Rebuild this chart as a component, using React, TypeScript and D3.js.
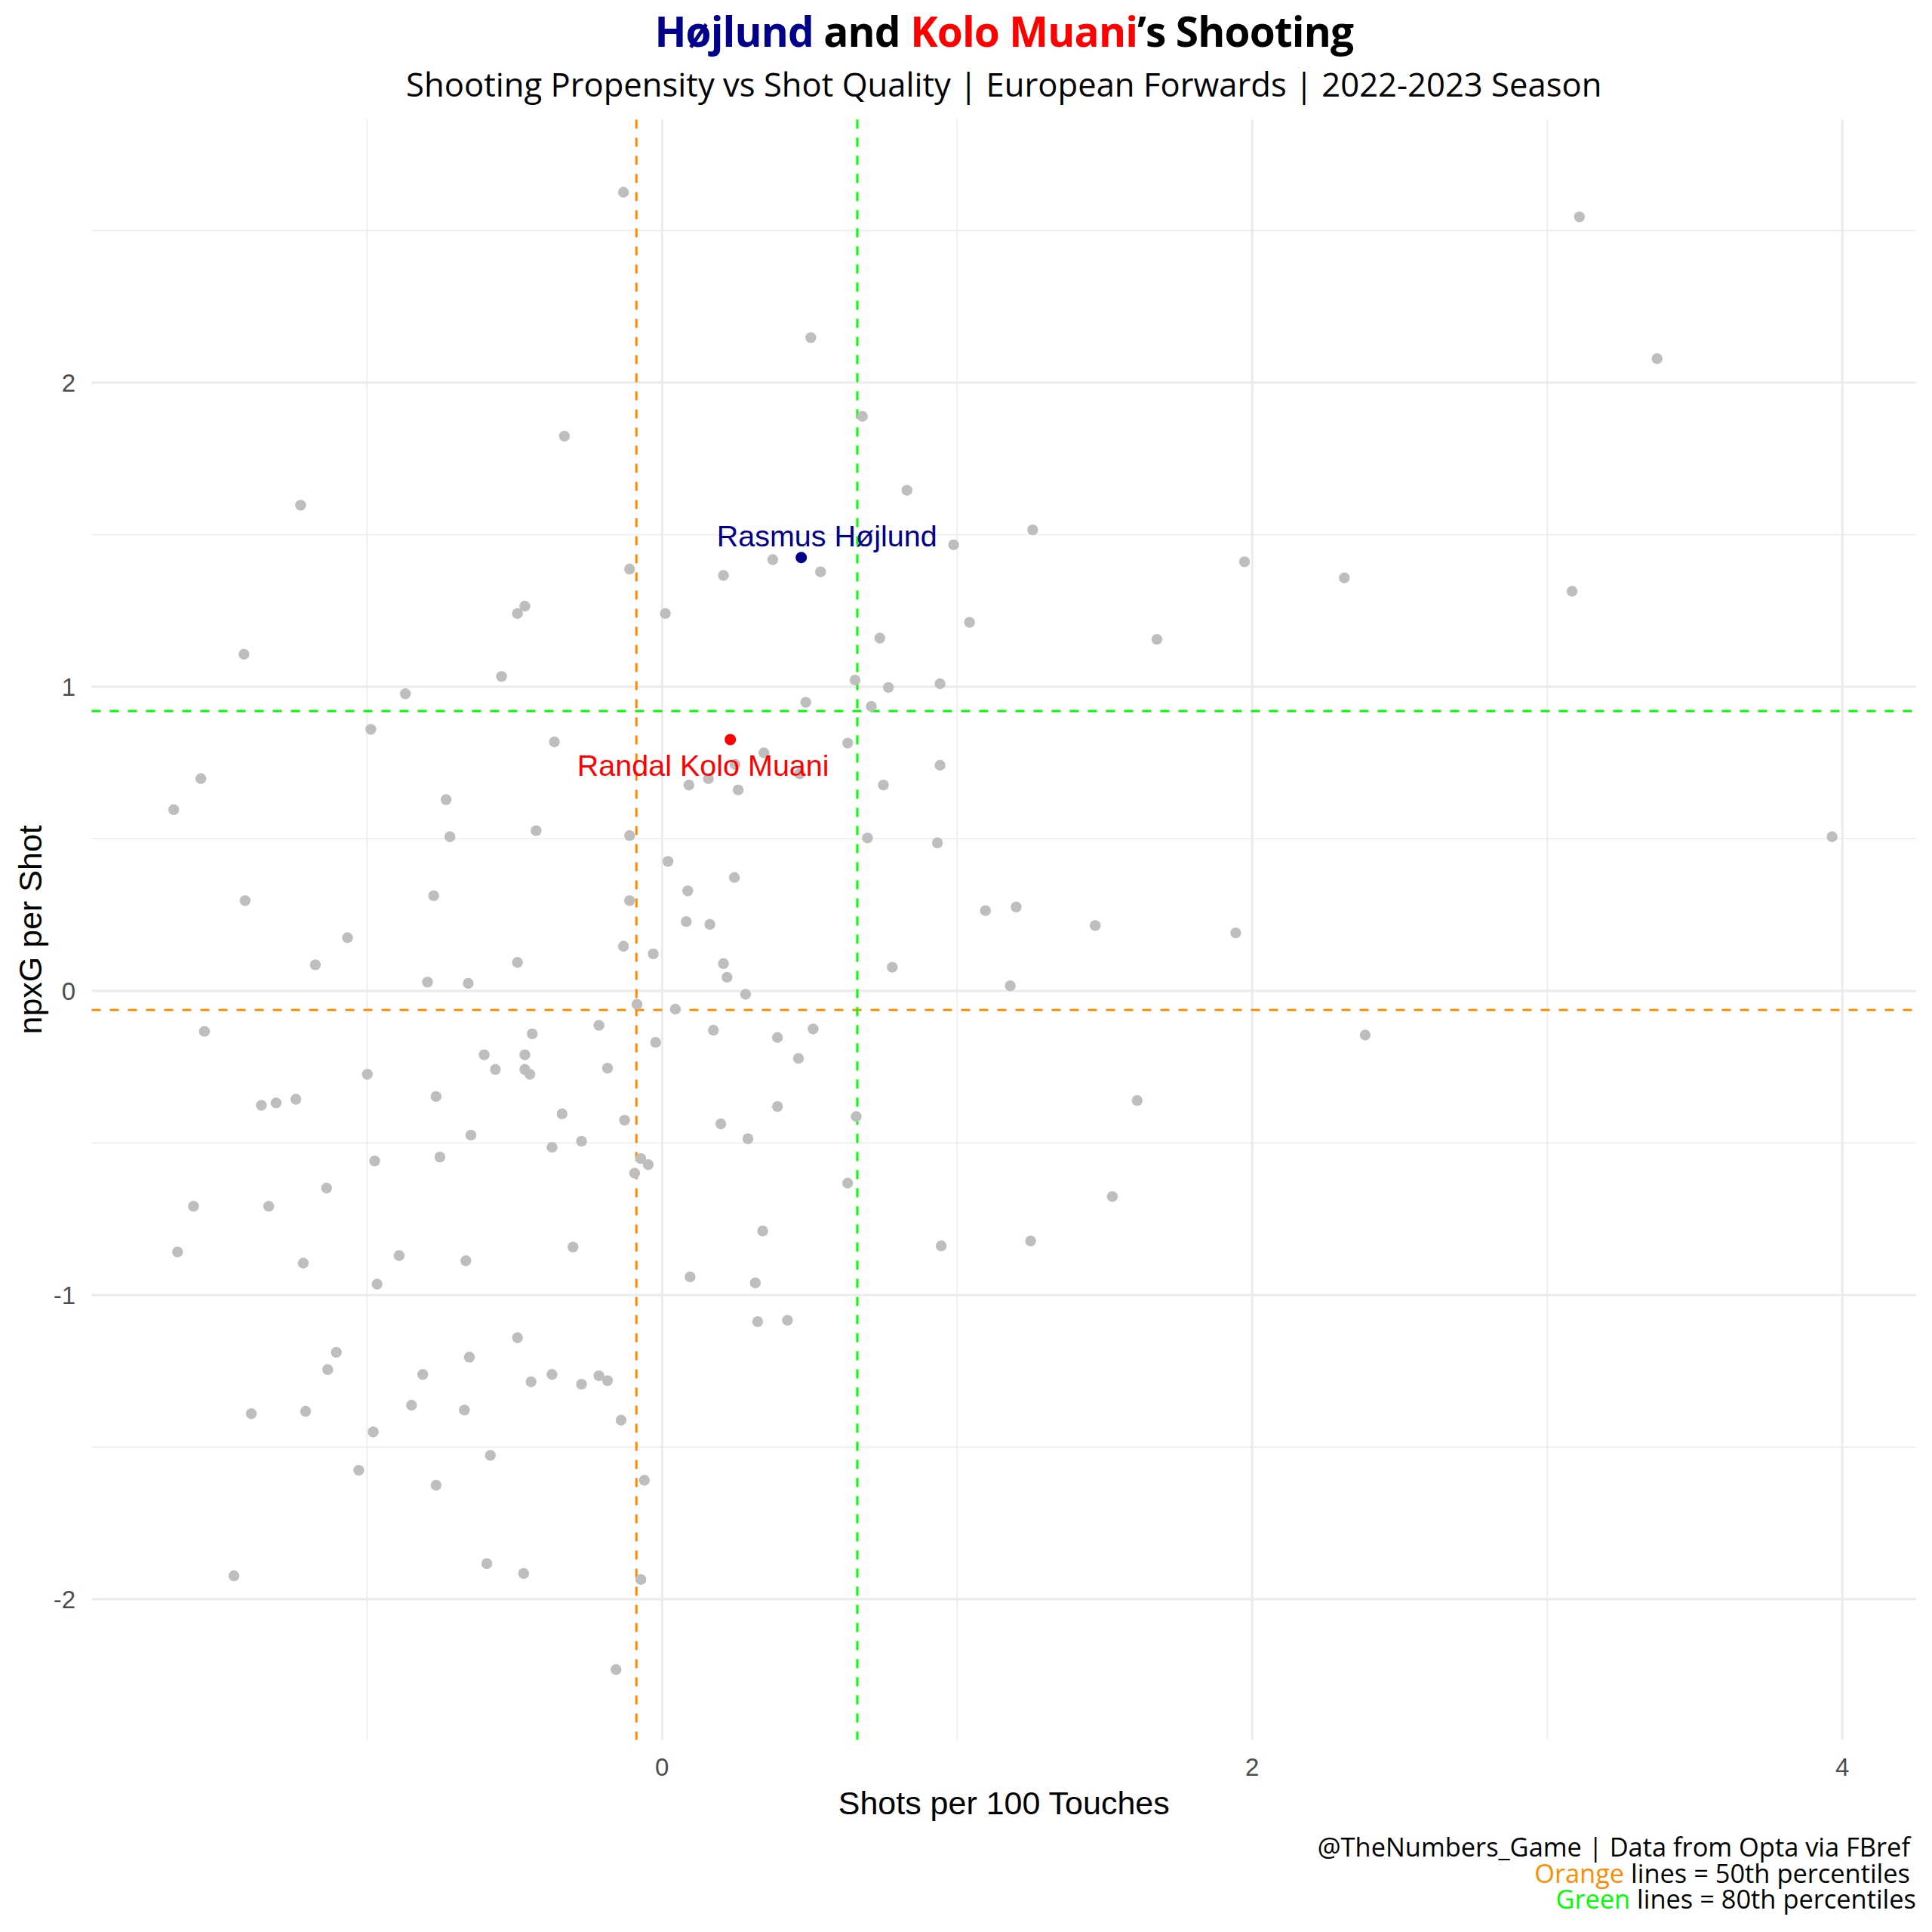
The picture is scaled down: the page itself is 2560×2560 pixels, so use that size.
import { useEffect } from "react";
import * as d3 from "d3";

// Shots per 100 touches (x) and npxG per shot (y), standardised, one entry per forward
const shotsPer100 = [
  -0.131, 3.109, 0.504, 3.372, 0.679, -0.331, 0.830, -1.225, 1.256, 0.988,
  0.375, 1.974, -0.110, 0.208, 0.537, 2.312, 3.084, -0.465, -0.490, 0.011,
  1.042, 0.738, 1.677, -1.417, -0.544, 0.654, 0.942, 0.767, -0.870, 0.487,
  0.709, -0.987, -0.365, 0.629, 0.345, 0.466, 0.942, -1.563, 0.157, 0.091,
  0.750, 0.258, -0.732, -1.655, -0.427, -0.719, -0.110, 0.696, 3.965, 0.933,
  0.020, 0.245, 0.087, -0.774, -1.413, -0.110, 1.200, 1.096, 0.082, 0.162,
  1.468, 1.944, -1.066, -0.131, -0.030, -0.490, 0.208, -1.175, 0.780, 0.220,
  -0.795, -0.657, 1.180, 0.283, -0.085, 0.045, -0.214, 0.174, -1.551, 0.512,
  -0.440, 2.383, 0.391, -0.022, -0.603, -0.465, 0.462, -0.565, -0.465, -0.185,
  -0.448, -0.999, -0.766, 1.610, -1.241, -1.308, -1.358, 0.391, -0.339, 0.658,
  -0.127, 0.199, -0.648, 0.291, -0.273, -0.373, -0.753, -0.072, -0.974, -0.047,
  -0.093, 0.629, -1.137, 1.526, -1.588, -1.333, 0.341, 1.249, 0.946, -0.302,
  -1.642, -0.891, -0.665, -1.216, 0.095, 0.316, -0.966, 0.324, 0.425, -0.490,
  -1.104, -0.653, -1.133, -0.811, -0.373, -0.214, -0.185, -0.444, -0.273, -0.849,
  -0.670, -1.208, -1.392, -0.139, -0.979, -0.582, -1.028, -0.060, -0.766, -0.594,
  -0.469, -1.451, -0.072, -0.156, 0.247,
];

const npxgPerShot = [
  2.626, 2.545, 2.148, 2.079, 1.889, 1.824, 1.646, 1.597, 1.516, 1.467,
  1.418, 1.411, 1.387, 1.366, 1.378, 1.358, 1.314, 1.265, 1.241, 1.241,
  1.212, 1.160, 1.156, 1.107, 1.034, 1.022, 1.010, 0.998, 0.977, 0.949,
  0.936, 0.860, 0.819, 0.815, 0.783, 0.714, 0.742, 0.698, 0.698, 0.677,
  0.677, 0.661, 0.629, 0.596, 0.527, 0.507, 0.511, 0.503, 0.507, 0.487,
  0.426, 0.373, 0.329, 0.313, 0.297, 0.297, 0.276, 0.264, 0.228, 0.219,
  0.215, 0.191, 0.175, 0.147, 0.122, 0.094, 0.090, 0.086, 0.078, 0.045,
  0.029, 0.025, 0.017, -0.011, -0.044, -0.060, -0.113, -0.129, -0.133, -0.125,
  -0.141, -0.145, -0.153, -0.169, -0.210, -0.210, -0.222, -0.258, -0.258, -0.254,
  -0.274, -0.274, -0.347, -0.360, -0.356, -0.368, -0.376, -0.380, -0.404, -0.413,
  -0.425, -0.437, -0.474, -0.486, -0.494, -0.514, -0.546, -0.551, -0.559, -0.571,
  -0.599, -0.632, -0.648, -0.676, -0.708, -0.708, -0.789, -0.822, -0.838, -0.842,
  -0.858, -0.870, -0.887, -0.895, -0.940, -0.960, -0.964, -1.087, -1.083, -1.140,
  -1.188, -1.204, -1.245, -1.261, -1.261, -1.265, -1.281, -1.285, -1.293, -1.362,
  -1.378, -1.382, -1.390, -1.411, -1.450, -1.527, -1.576, -1.609, -1.625, -1.883,
  -1.915, -1.923, -1.935, -2.231, 0.745,
];

// Highlighted players
const highlightNames = ["Rasmus Højlund", "Randal Kolo Muani"];
const highlightX = [0.4716, 0.2312];
const highlightY = [1.425, 0.8266];
const highlightColors = ["#00008B", "#FF0000"];

// Percentile reference lines
const p50X = -0.087;
const p50Y = -0.0625;
const p80X = 0.6616;
const p80Y = 0.92;

const xMajor = [0, 2, 4];
const xMinor = [-1, 1, 3];
const yMajor = [-2, -1, 0, 1, 2];
const yMinor = [-1.5, -0.5, 0.5, 1.5, 2.5];

const ORANGE = "#FF8C00";
const GREEN = "#00FF00";
const GRID = "#EBEBEB";
const SANS = "'Liberation Sans', Arial, sans-serif";
const OPEN = "'Open Sans', sans-serif";

// label offsets from their point (repel result)
const labelDx = [34, -36];
const labelDy = [-15, 48];

export default function App() {
  useEffect(() => {
    document.body.style.margin = "0";
  }, []);

  const W = 2560;
  const H = 2560;
  const panel = { left: 121.5, right: 2539, top: 158.4, bottom: 2305.3 };

  const x = d3.scaleLinear().domain([-1.933, 4.25]).range([panel.left, panel.right]);
  const y = d3.scaleLinear().domain([-2.462, 2.865]).range([panel.bottom, panel.top]);

  const cx = (panel.left + panel.right) / 2;
  const cy = (panel.top + panel.bottom) / 2;

  return (
    <svg width={W} height={H} style={{ display: "block", background: "#fff" }}>
      {/* ── Grid ───────────────────────────────────────── */}
      <g>
        {yMinor.map((v) => (
          <line key={"ym" + v} x1={panel.left} x2={panel.right} y1={y(v)} y2={y(v)}
            stroke={GRID} strokeWidth={1.6} />
        ))}
        {xMinor.map((v) => (
          <line key={"xm" + v} x1={x(v)} x2={x(v)} y1={panel.top} y2={panel.bottom}
            stroke={GRID} strokeWidth={1.6} />
        ))}
        {yMajor.map((v) => (
          <line key={"yM" + v} x1={panel.left} x2={panel.right} y1={y(v)} y2={y(v)}
            stroke={GRID} strokeWidth={3} />
        ))}
        {xMajor.map((v) => (
          <line key={"xM" + v} x1={x(v)} x2={x(v)} y1={panel.top} y2={panel.bottom}
            stroke={GRID} strokeWidth={3} />
        ))}
      </g>

      {/* ── Percentile lines ───────────────────────────── */}
      <g strokeWidth={3} strokeDasharray="12,12">
        <line x1={x(p50X)} x2={x(p50X)} y1={panel.top} y2={panel.bottom} stroke={ORANGE} />
        <line x1={panel.left} x2={panel.right} y1={y(p50Y)} y2={y(p50Y)} stroke={ORANGE} />
        <line x1={x(p80X)} x2={x(p80X)} y1={panel.top} y2={panel.bottom} stroke={GREEN} />
        <line x1={panel.left} x2={panel.right} y1={y(p80Y)} y2={y(p80Y)} stroke={GREEN} />
      </g>

      {/* ── Points ─────────────────────────────────────── */}
      <g fill="#BEBEBE">
        {shotsPer100.map((v, i) => (
          <circle key={i} cx={x(v)} cy={y(npxgPerShot[i])} r={7.2} />
        ))}
      </g>
      {highlightNames.map((n, i) => (
        <circle key={n} cx={x(highlightX[i])} cy={y(highlightY[i])} r={7.5} fill={highlightColors[i]} />
      ))}
      {highlightNames.map((n, i) => (
        <text key={n + "l"} x={x(highlightX[i]) + labelDx[i]} y={y(highlightY[i]) + labelDy[i]}
          textAnchor="middle" fontFamily={SANS} fontSize={39.5} fill={highlightColors[i]}>
          {n}
        </text>
      ))}

      {/* ── Axes text ──────────────────────────────────── */}
      {xMajor.map((v) => (
        <text key={"xt" + v} x={x(v)} y={2353} textAnchor="middle" fontFamily={SANS}
          fontSize={33} fill="#4D4D4D">{v}</text>
      ))}
      {yMajor.map((v) => (
        <text key={"yt" + v} x={100} y={y(v) + 11.8} textAnchor="end" fontFamily={SANS}
          fontSize={33} fill="#4D4D4D">{v}</text>
      ))}
      <text x={cx} y={2404} textAnchor="middle" fontFamily={SANS} fontSize={43} fill="#000">
        Shots per 100 Touches
      </text>
      <text transform={`translate(55,${cy}) rotate(-90)`} textAnchor="middle" fontFamily={SANS}
        fontSize={43} fill="#000">
        npxG per Shot
      </text>

      {/* ── Titles ─────────────────────────────────────── */}
      <text x={cx} y={61.5} textAnchor="middle" fontFamily={OPEN} fontWeight="bold" fontSize={55}
        letterSpacing={-0.9} fill="#000">
        <tspan fill="#00008B">Højlund</tspan>
        <tspan> and </tspan>
        <tspan fill="#FF0000">Kolo Muani</tspan>
        <tspan>’s Shooting</tspan>
      </text>
      <text x={cx} y={128} textAnchor="middle" fontFamily={OPEN} fontSize={43.6} fill="#000">
        Shooting Propensity vs Shot Quality | European Forwards | 2022-2023 Season
      </text>

      {/* ── Caption ────────────────────────────────────── */}
      <g fontFamily={OPEN} fontSize={34.4} textAnchor="end" fill="#000">
        <text x={2531} y={2460}>@TheNumbers_Game | Data from Opta via FBref</text>
        <text x={2531} y={2495}>
          <tspan fill={ORANGE}>Orange</tspan> lines = 50th percentiles
        </text>
        <text x={2539} y={2529}>
          <tspan fill={GREEN}>Green</tspan> lines = 80th percentiles
        </text>
      </g>
    </svg>
  );
}
